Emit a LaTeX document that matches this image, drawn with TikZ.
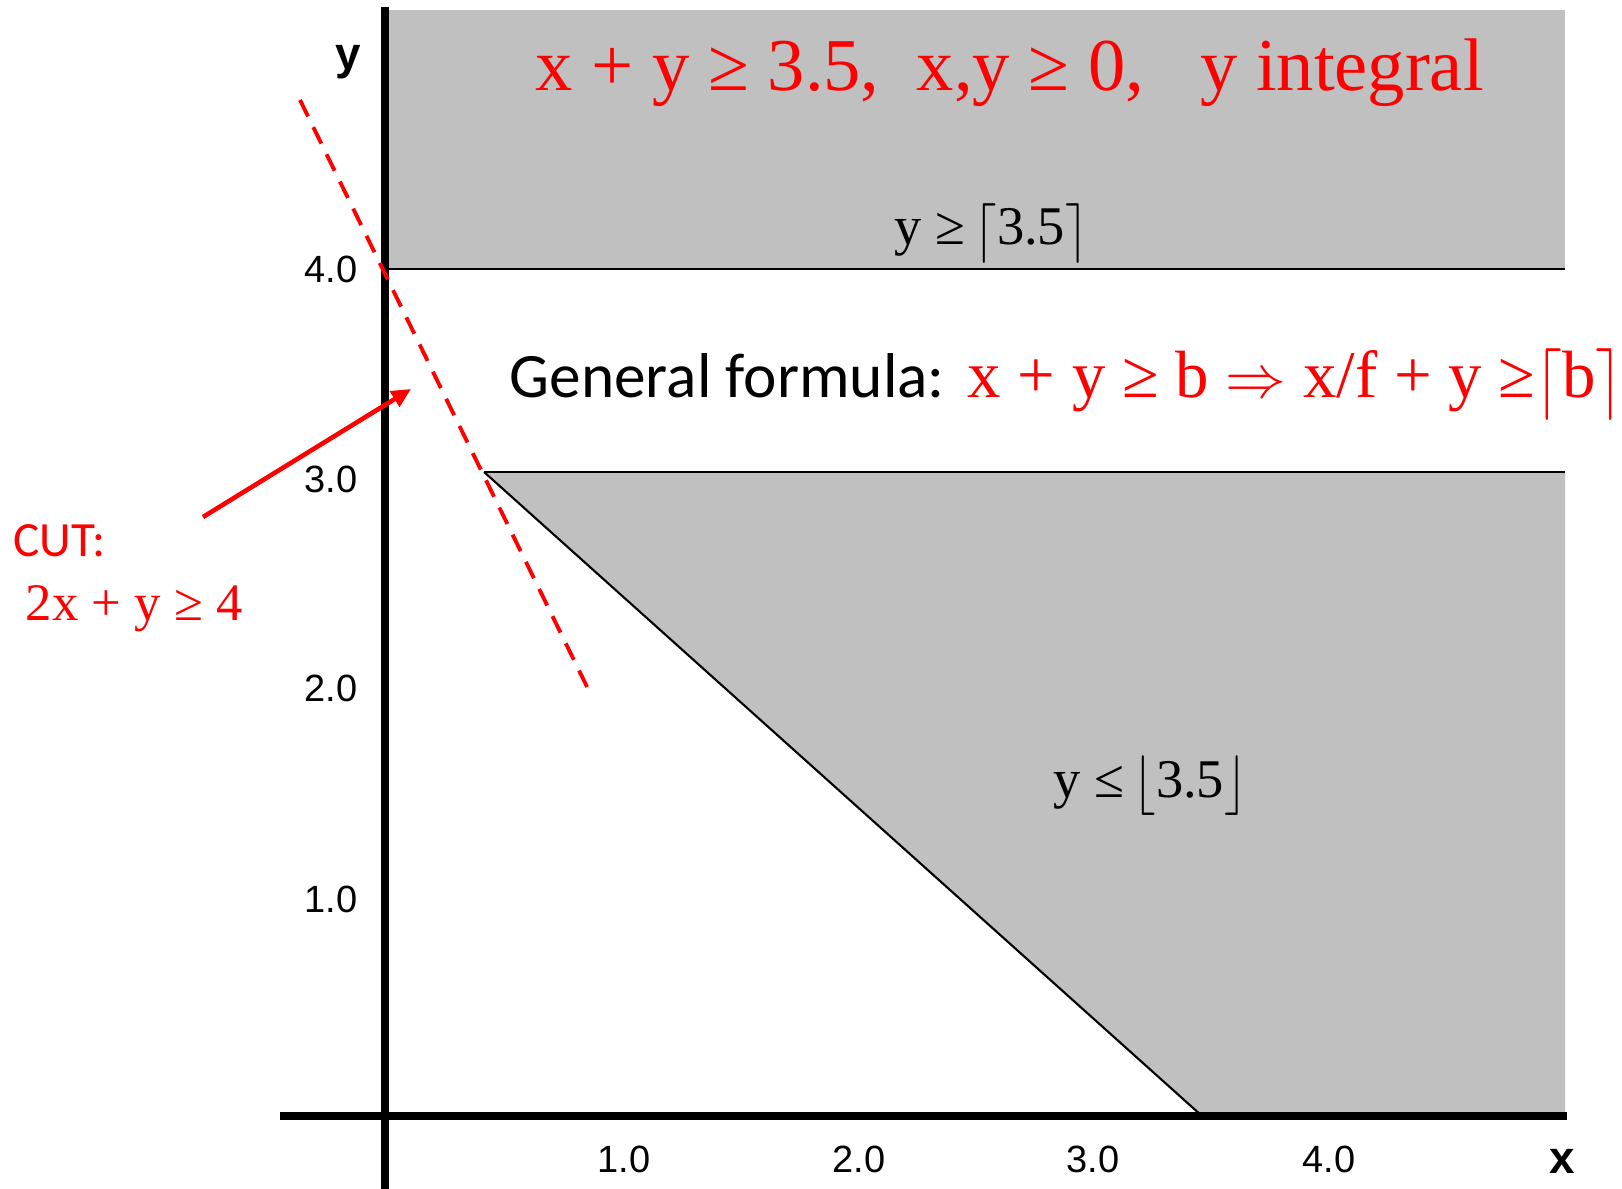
\documentclass[tikz,border=0pt]{standalone}
\usepackage{fontspec}
\usepackage{graphicx}
\setmainfont{Liberation Serif}
\newfontfamily\calibrifont{Carlito}
\newfontfamily\arialfont{Liberation Sans}
\usetikzlibrary{arrows.meta}
\definecolor{shadegray}{RGB}{192,192,192}
\newcommand{\tallceilL}{\raisebox{-0.06em}{\scalebox{1}[1.18]{$\bigl\lceil$}}}
\newcommand{\tallceilR}{\raisebox{-0.06em}{\scalebox{1}[1.18]{$\bigr\rceil$}}}
\newcommand{\tallfloorL}{\raisebox{-0.06em}{\scalebox{1}[1.18]{$\bigl\lfloor$}}}
\newcommand{\tallfloorR}{\raisebox{-0.06em}{\scalebox{1}[1.18]{$\bigr\rfloor$}}}
\begin{document}
\begin{tikzpicture}[x=0.01cm,y=-0.01cm,
  region/.style={fill=shadegray,draw=none},
  axisline/.style={line width=2.5pt},
  boundline/.style={line width=0.6pt},
  cutline/.style={red,line width=1.1pt,dash pattern=on 5.2pt off 3.4pt},
  cutarrow/.style={red,line width=1.3pt,-{Triangle[length=5.5pt,width=5pt]}},
  txt/.style={inner sep=0pt,anchor=base west},
  tick/.style={inner sep=0pt,font=\arialfont\fontsize{10.8}{12}\selectfont},
  axlabel/.style={inner sep=0pt,font=\arialfont\bfseries\fontsize{13}{15}\selectfont}]
\useasboundingbox (0,0) rectangle (1622,1189);
% coordinates
\coordinate (TL) at (389,10);
\coordinate (TR) at (1565,269);
\coordinate (L4) at (385,269);
\coordinate (V) at (484,472);
\coordinate (R3) at (1565,472);
\coordinate (RB) at (1565,1116);
\coordinate (XB) at (1202,1116);
\coordinate (yaxTop) at (385,7);
\coordinate (yaxBot) at (385,1189);
\coordinate (xaxL) at (280,1116);
\coordinate (xaxR) at (1567,1116);
\coordinate (cutA) at (300,100);
\coordinate (cutB) at (592,697);
\coordinate (arrT) at (203,517);
\coordinate (arrH) at (411,389);
% regions
\fill[region] (TL) rectangle (TR);
\fill[region] (V) -- (R3) -- (RB) -- (XB) -- cycle;
\draw[boundline] (L4) -- (TR);
\draw[boundline] (V) -- (R3);
\draw[boundline] (V) -- (XB);
% axes
\draw[axisline] (yaxTop) -- (yaxBot);
\draw[axisline] (xaxL) -- (xaxR);
% cut
\draw[cutline] (cutA) -- (cutB);
\draw[cutarrow] (arrT) -- (arrH);
% texts
\node[txt,text=red,font=\fontsize{21.2}{25}\selectfont] (title) at (535,91)
  {x + y ≥ 3.5,\ \ x,y ≥ 0,\ \ \ y integral};
\node[txt,font=\fontsize{15.5}{18}\selectfont] (ceil) at (894,245)
  {y ≥\,\tallceilL3.5\tallceilR};
\node[txt,font=\fontsize{15.5}{18}\selectfont] (floor) at (1053,797)
  {y ≤\,\tallfloorL3.5\tallfloorR};
\node[txt,font=\calibrifont\fontsize{18}{21}\selectfont] (gen) at (509,398)
  {General formula:};
\node[txt,text=red,font=\fontsize{19}{22}\selectfont] (genf) at (967,398)
  {x + y ≥ b $\Rightarrow$ x/f + y ≥\tallceilL b\tallceilR};
\node[txt,text=red,font=\calibrifont\fontsize{14}{16}\selectfont] (cut) at (13,557) {CUT:};
\node[txt,text=red,font=\fontsize{15}{18}\selectfont] (cuteq) at (25,621) {2x + y ≥ 4};
% ticks
\node[tick,anchor=east] (y4) at (358,269) {4.0};
\node[tick,anchor=east] (y3) at (358,479) {3.0};
\node[tick,anchor=east] (y2) at (358,688) {2.0};
\node[tick,anchor=east] (y1) at (358,899) {1.0};
\node[tick] (x1) at (624,1159) {1.0};
\node[tick] (x2) at (859,1159) {2.0};
\node[tick] (x3) at (1093,1159) {3.0};
\node[tick] (x4) at (1329,1159) {4.0};
\node[axlabel] (ylab) at (348,62) {y};
\node[axlabel] (xlab) at (1562,1161) {x};
\end{tikzpicture}
\end{document}
